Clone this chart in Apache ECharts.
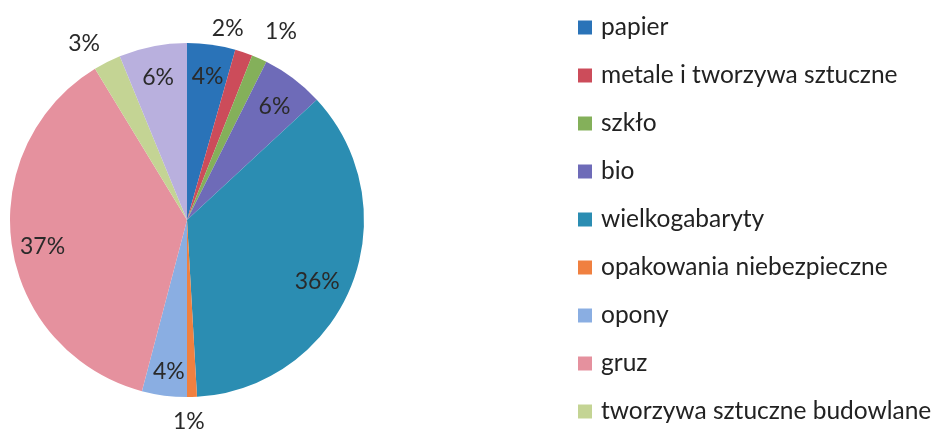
<!DOCTYPE html>
<html>
<head>
<meta charset="utf-8">
<script src="https://cdn.jsdelivr.net/npm/echarts@6/dist/echarts.min.js"></script>
<style>
html,body{margin:0;padding:0;background:#fff;}
#chart{width:931px;height:429px;}
</style>
</head>
<body>
<div id="chart"></div>
<script>
// Categories (legend order, clockwise from 12 o'clock)
const categories = ['papier','metale i tworzywa sztuczne','szkło','bio','wielkogabaryty','opakowania niebezpieczne','opony','gruz','tworzywa sztuczne budowlane','inne'];
// Shares in percent
const shares = [4.4, 1.6, 1.4, 5.7, 36.0, 0.9, 4.1, 37.2, 2.5, 6.2];
// Label placement: inside the slice or just outside the rim
const labelPlace = ['in','out','out','in','in','out','in','in','out','in'];
// Legend entries visible in the picture
const legendNames = categories.slice(0, 9);

const colors = ['#2a73b8','#cc4c5a','#84b05a','#6e6bb8','#2b8db2','#f08040','#8aaee2','#e5919e','#c4d494','#b9b0de'];
const FONT = 'Lato';
const center = [187, 220];
const R = 177;

// small label nudges (style only)
const nudgeOut = {1: [-26, 6], 2: [9, 1], 8: [-9, 9], 5: [-4, -6]};
const nudgeIn = {0: [0, 4], 3: [-2, 6], 4: [-8, 6], 6: [1, 4], 7: [3, 5], 9: [0, 4]};

const chart = echarts.init(document.getElementById('chart'));
const baseData = categories.map((n, i) => ({name: n, value: shares[i], itemStyle: {color: colors[i]}}));
const labelData = (where) => categories.map((n, i) => ({
  name: n, value: shares[i],
  label: {show: labelPlace[i] === where}
}));
const labelCommon = {
  position: 'inside',
  formatter: p => Math.round(p.value) + '%',
  color: '#2a2a2a',
  fontFamily: FONT,
  fontSize: 23
};
const shift = table => p => { const d = table[p.dataIndex]; return d ? {dx: d[0], dy: d[1]} : {}; };

chart.setOption({
  animation: false,
  color: colors,
  legend: {
    data: legendNames,
    orient: 'vertical',
    left: 578,
    top: 15,
    height: 420,
    padding: 0,
    icon: 'rect',
    itemWidth: 14,
    itemHeight: 14,
    itemGap: 23,
    selectedMode: false,
    textStyle: {fontFamily: FONT, fontSize: 24.5, color: '#222', lineHeight: 24, padding: [0,0,0,4]}
  },
  series: [
    {
      type: 'pie', center: center, radius: [0, R], startAngle: 90, clockwise: true,
      label: {show: false}, labelLine: {show: false}, silent: true,
      itemStyle: {borderWidth: 0},
      data: baseData
    },
    {
      type: 'pie', center: center, radius: [115, R], startAngle: 90, clockwise: true,
      silent: true, itemStyle: {color: 'rgba(0,0,0,0)', borderWidth: 0},
      label: labelCommon, labelLine: {show: false},
      labelLayout: shift(nudgeIn),
      data: labelData('in')
    },
    {
      type: 'pie', center: center, radius: [R, 233], startAngle: 90, clockwise: true,
      silent: true, itemStyle: {color: 'rgba(0,0,0,0)', borderWidth: 0},
      label: labelCommon, labelLine: {show: false},
      labelLayout: shift(nudgeOut),
      data: labelData('out')
    }
  ]
});
</script>
</body>
</html>
